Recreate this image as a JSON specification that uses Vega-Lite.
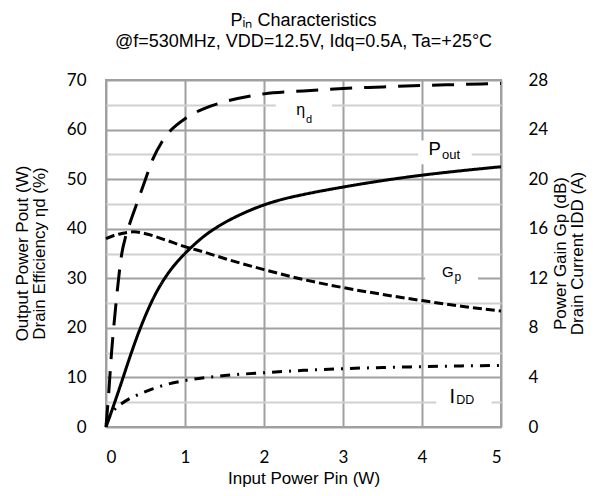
{
  "$schema": "https://vega.github.io/schema/vega-lite/v6.json",
  "width": 395,
  "height": 347,
  "autosize": {"type": "none"},
  "padding": {"left": 106, "top": 80, "right": 110, "bottom": 69},
  "background": "white",
  "config": {
    "view": {"stroke": "#a0a0a0", "strokeWidth": 2},
    "font": "Liberation Sans"
  },
  "title": {
    "text": ["Pᵢₙ Characteristics", "@f=530MHz, VDD=12.5V, Idq=0.5A, Ta=+25°C"],
    "font": "Liberation Sans",
    "fontSize": 18,
    "fontWeight": "normal",
    "color": "#000000",
    "anchor": "middle",
    "lineHeight": 21,
    "offset": 20
  },
  "datasets": {
    "left": [
      {"s": "Pout", "x": 0, "y": 0}, {"s": "Pout", "x": 0.1, "y": 4.5}, {"s": "Pout", "x": 0.2, "y": 9.2},
      {"s": "Pout", "x": 0.3, "y": 14}, {"s": "Pout", "x": 0.4, "y": 18.5}, {"s": "Pout", "x": 0.5, "y": 22.5},
      {"s": "Pout", "x": 0.6, "y": 26}, {"s": "Pout", "x": 0.7, "y": 28.9}, {"s": "Pout", "x": 0.8, "y": 31.3},
      {"s": "Pout", "x": 0.9, "y": 33.3}, {"s": "Pout", "x": 1.0, "y": 35.0}, {"s": "Pout", "x": 1.25, "y": 38.6},
      {"s": "Pout", "x": 1.5, "y": 41.2}, {"s": "Pout", "x": 1.75, "y": 43.2}, {"s": "Pout", "x": 2, "y": 44.8},
      {"s": "Pout", "x": 2.25, "y": 46.0}, {"s": "Pout", "x": 2.5, "y": 46.9}, {"s": "Pout", "x": 3, "y": 48.4},
      {"s": "Pout", "x": 3.5, "y": 49.7}, {"s": "Pout", "x": 4, "y": 50.8}, {"s": "Pout", "x": 4.5, "y": 51.7},
      {"s": "Pout", "x": 5, "y": 52.5},
      {"s": "eta", "x": 0, "y": 0}, {"s": "eta", "x": 0.035, "y": 7}, {"s": "eta", "x": 0.07, "y": 15},
      {"s": "eta", "x": 0.1, "y": 20.5}, {"s": "eta", "x": 0.135, "y": 26.3}, {"s": "eta", "x": 0.2, "y": 35},
      {"s": "eta", "x": 0.25, "y": 38.5}, {"s": "eta", "x": 0.3, "y": 41}, {"s": "eta", "x": 0.4, "y": 45.5},
      {"s": "eta", "x": 0.5, "y": 50}, {"s": "eta", "x": 0.6, "y": 54.3}, {"s": "eta", "x": 0.7, "y": 57.3},
      {"s": "eta", "x": 0.8, "y": 59.5}, {"s": "eta", "x": 0.9, "y": 61}, {"s": "eta", "x": 1.0, "y": 62.2},
      {"s": "eta", "x": 1.25, "y": 64.3}, {"s": "eta", "x": 1.5, "y": 65.6}, {"s": "eta", "x": 2, "y": 67.2},
      {"s": "eta", "x": 2.5, "y": 67.8}, {"s": "eta", "x": 3, "y": 68.3}, {"s": "eta", "x": 3.5, "y": 68.6},
      {"s": "eta", "x": 4, "y": 68.9}, {"s": "eta", "x": 4.5, "y": 69.1}, {"s": "eta", "x": 5, "y": 69.3}
    ],
    "right": [
      {"s": "Gp", "x": 0, "y": 15.2}, {"s": "Gp", "x": 0.1, "y": 15.45}, {"s": "Gp", "x": 0.2, "y": 15.62},
      {"s": "Gp", "x": 0.35, "y": 15.75}, {"s": "Gp", "x": 0.5, "y": 15.6}, {"s": "Gp", "x": 0.75, "y": 15.1},
      {"s": "Gp", "x": 1.0, "y": 14.55}, {"s": "Gp", "x": 1.25, "y": 14.1}, {"s": "Gp", "x": 1.5, "y": 13.6},
      {"s": "Gp", "x": 2, "y": 12.7}, {"s": "Gp", "x": 2.5, "y": 11.9}, {"s": "Gp", "x": 3, "y": 11.25},
      {"s": "Gp", "x": 3.5, "y": 10.7}, {"s": "Gp", "x": 4, "y": 10.2}, {"s": "Gp", "x": 4.5, "y": 9.75},
      {"s": "Gp", "x": 5, "y": 9.35},
      {"s": "IDD", "x": 0, "y": 0.2}, {"s": "IDD", "x": 0.05, "y": 0.9}, {"s": "IDD", "x": 0.1, "y": 1.35},
      {"s": "IDD", "x": 0.2, "y": 1.9}, {"s": "IDD", "x": 0.3, "y": 2.3}, {"s": "IDD", "x": 0.4, "y": 2.6},
      {"s": "IDD", "x": 0.5, "y": 2.85}, {"s": "IDD", "x": 0.6, "y": 3.1}, {"s": "IDD", "x": 0.75, "y": 3.4},
      {"s": "IDD", "x": 1, "y": 3.75}, {"s": "IDD", "x": 1.25, "y": 3.98}, {"s": "IDD", "x": 1.5, "y": 4.15},
      {"s": "IDD", "x": 2, "y": 4.38}, {"s": "IDD", "x": 2.5, "y": 4.57}, {"s": "IDD", "x": 3, "y": 4.71},
      {"s": "IDD", "x": 3.5, "y": 4.8}, {"s": "IDD", "x": 4, "y": 4.87}, {"s": "IDD", "x": 4.5, "y": 4.93},
      {"s": "IDD", "x": 5, "y": 4.97}
    ],
    "boxes": [
      {"x": 2.15, "x2": 2.86, "y": 61.5, "y2": 66.5},
      {"x": 3.95, "x2": 4.63, "y": 53, "y2": 57.8},
      {"x": 4.04, "x2": 4.71, "y": 27.5, "y2": 33.5},
      {"x": 4.18, "x2": 4.88, "y": 1.5, "y2": 8.5}
    ],
    "mains": [
      {"t": "η", "x": 2.52, "y": 62.9},
      {"t": "P", "x": 4.24, "y": 54.8},
      {"t": "G", "x": 4.40, "y": 30.3},
      {"t": "I", "x": 4.42, "y": 4.78}
    ],
    "subs": [
      {"t": "d", "x": 2.52, "y": 61.3},
      {"t": "out", "x": 4.24, "y": 54.0},
      {"t": "p", "x": 4.40, "y": 29.5},
      {"t": "DD", "x": 4.42, "y": 4.64}
    ]
  },
  "encoding": {
    "x": {
      "field": "x",
      "type": "quantitative",
      "scale": {"domain": [0, 5], "nice": false, "zero": false},
      "axis": {
        "values": [0, 1, 2, 3, 4, 5],
        "grid": true,
        "gridColor": "#a0a0a0",
        "gridWidth": 2,
        "ticks": false,
        "domain": false,
        "labelPadding": 22,
        "labelFont": "Lato",
        "labelFontSize": 17,
        "labelColor": "#000000",
        "title": "Input Power Pin (W)",
        "titleFont": "Liberation Sans",
        "titleFontSize": 17,
        "titleFontWeight": "normal",
        "titleColor": "#000000",
        "titleBaseline": "middle",
        "titleY": 51
      }
    }
  },
  "layer": [
    {
      "encoding": {
        "y": {
          "field": "y",
          "type": "quantitative",
          "scale": {"domain": [0, 70], "nice": false, "zero": false},
          "axis": {
            "orient": "left",
            "values": [0, 5, 10, 15, 20, 25, 30, 35, 40, 45, 50, 55, 60, 65, 70],
            "labelExpr": "datum.value % 10 === 0 ? datum.label : ''",
            "grid": true,
            "gridColor": {"condition": {"test": "datum.value % 10 === 0", "value": "#a0a0a0"}, "value": "#d0d0d0"},
            "gridWidth": 2,
            "ticks": false,
            "domain": false,
            "labelPadding": 20,
            "labelFont": "Lato",
            "labelFontSize": 17,
            "labelColor": "#000000",
            "title": ["Output Power Pout (W)", "Drain Efficiency ηd (%)"],
            "titleFont": "Liberation Sans",
            "titleFontSize": 17,
            "titleFontWeight": "normal",
            "titleColor": "#000000",
            "titleAngle": -90,
            "titleAlign": "center",
            "titleBaseline": "middle",
            "titleLineHeight": 17,
            "titleX": -84,
            "titleY": 173
          }
        }
      },
      "layer": [
        {
          "data": {"name": "boxes"},
          "mark": {"type": "rect", "fill": "white", "stroke": null},
          "encoding": {
            "x2": {"field": "x2"},
            "y2": {"field": "y2"}
          }
        },
        {
          "data": {"name": "left"},
          "mark": {"type": "line", "color": "black", "strokeWidth": 3, "interpolate": "monotone"},
          "encoding": {
            "detail": {"field": "s"},
            "strokeDash": {
              "field": "s",
              "type": "nominal",
              "scale": {"domain": ["Pout", "eta"], "range": [[1, 0], [22, 12]]},
              "legend": null
            }
          }
        },
        {
          "data": {"name": "mains"},
          "mark": {"type": "text", "align": "right", "baseline": "alphabetic", "font": "Liberation Sans", "color": "black"},
          "encoding": {
            "text": {"field": "t"},
            "size": {
              "condition": [
                {"test": "datum.t === 'P'", "value": 18.5},
                {"test": "datum.t === 'G'", "value": 15},
                {"test": "datum.t === 'I'", "value": 20}
              ],
              "value": 16
            }
          }
        },
        {
          "data": {"name": "subs"},
          "mark": {"type": "text", "align": "left", "baseline": "alphabetic", "dx": 1, "font": "Liberation Sans", "color": "black"},
          "encoding": {
            "text": {"field": "t"},
            "size": {
              "condition": [
                {"test": "datum.t === 'out'", "value": 13},
                {"test": "datum.t === 'p'", "value": 12},
                {"test": "datum.t === 'DD'", "value": 12.5}
              ],
              "value": 11
            }
          }
        }
      ]
    },
    {
      "data": {"name": "right"},
      "mark": {"type": "line", "color": "black", "strokeWidth": 3, "interpolate": "monotone"},
      "encoding": {
        "y": {
          "field": "y",
          "type": "quantitative",
          "scale": {"domain": [0, 28], "nice": false, "zero": false},
          "axis": {
            "orient": "right",
            "values": [0, 4, 8, 12, 16, 20, 24, 28],
            "grid": false,
            "ticks": false,
            "domain": false,
            "labelPadding": 27,
            "labelFont": "Lato",
            "labelFontSize": 17,
            "labelColor": "#000000",
            "title": ["Power Gain Gp (dB)", "Drain Current IDD (A)"],
            "titleFont": "Liberation Sans",
            "titleFontSize": 17,
            "titleFontWeight": "normal",
            "titleColor": "#000000",
            "titleAngle": -90,
            "titleAlign": "center",
            "titleBaseline": "middle",
            "titleLineHeight": 17,
            "titleX": 59,
            "titleY": 173
          }
        },
        "detail": {"field": "s"},
        "strokeDash": {
          "field": "s",
          "type": "nominal",
          "scale": {"domain": ["Gp", "IDD"], "range": [[9, 4], [10, 7, 2, 7]]},
          "legend": null
        }
      }
    }
  ],
  "resolve": {"scale": {"y": "independent", "strokeDash": "independent"}}
}
